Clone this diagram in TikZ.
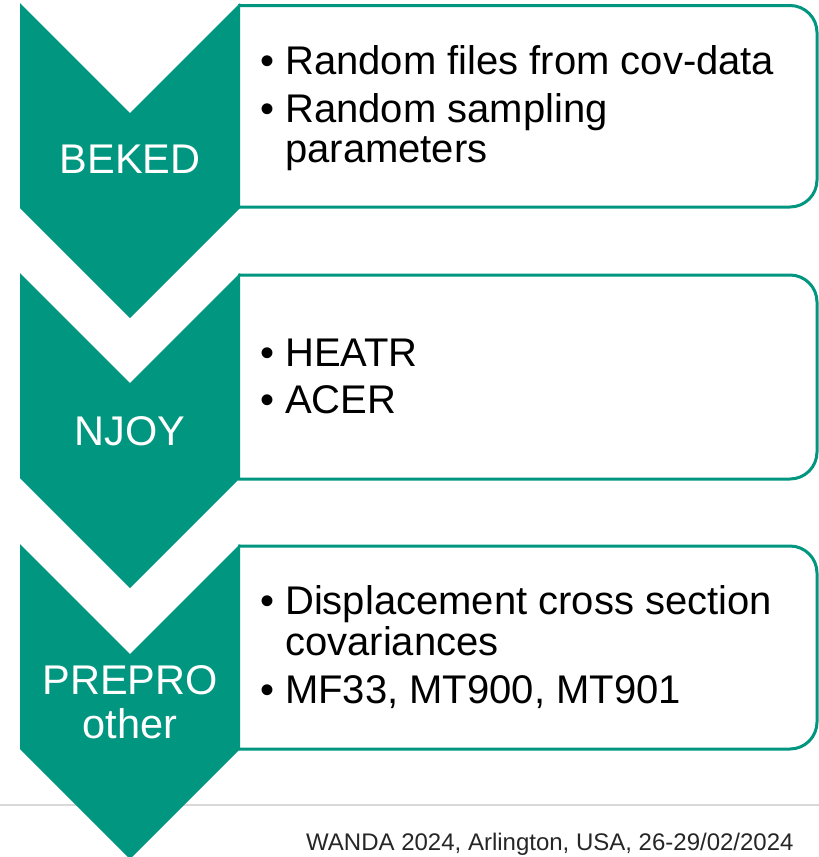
\documentclass[tikz,border=0pt]{standalone}
\usepackage{fontspec}
\setmainfont{Liberation Sans}
\definecolor{tealc}{RGB}{0,150,128}
\definecolor{rulegray}{RGB}{217,217,217}
\definecolor{foottext}{RGB}{38,38,38}
\tikzset{
  chev/.style={fill=tealc, draw=none},
  box/.style={draw=tealc, line width=3pt, rounded corners=27pt, fill=white},
  lbl/.style={text=white, inner sep=0pt, anchor=base, font=\fontsize{41.5}{41.5}\selectfont},
  bul/.style={text=black, inner sep=0pt, anchor=base west, font=\fontsize{40}{40}\selectfont},
  foot/.style={text=foottext, inner sep=0pt, anchor=base west, font=\fontsize{24}{24}\selectfont}
}
\begin{document}
\begin{tikzpicture}[x=1pt,y=-1pt]
\useasboundingbox (0,0) rectangle (819,857);
\begin{scope}
\clip (0,0) rectangle (819,857);
% boxes
\draw[box] (238,5.5) -- (817,5.5) -- (817,207) -- (238,207);
\draw[box] (238,275) -- (817,275) -- (817,479) -- (238,479);
\draw[box] (238,546) -- (817,546) -- (817,749) -- (238,749);
% footer rule
\draw[rulegray, line width=2.5pt] (0,805) -- (819,805);
% chevrons
\foreach \t in {3,273,544}{
  \fill[chev] (20,\t) -- (130,\t+110) -- (240,\t) -- (240,\t+205) -- (130,\t+315) -- (20,\t+205) -- cycle;
}
% labels
\node[lbl] (beked) at (130,173) {BEKED};
\node[lbl] (njoy) at (130,445) {NJOY};
\node[lbl] (prepro) at (130,694) {PREPRO};
\node[lbl] (other) at (130,738) {other};
% bullets box 1
\node[bul] (d1) at (260,74) {•};
\node[bul] (t1) at (285,74) {Random files from cov-data};
\node[bul] (d2) at (260,122) {•};
\node[bul] (t2) at (285,122) {Random sampling};
\node[bul] (t2b) at (285,162) {parameters};
% bullets box 2
\node[bul] (d3) at (260,366) {•};
\node[bul] (t3) at (285,366) {HEATR};
\node[bul] (d4) at (260,413) {•};
\node[bul] (t4) at (285,413) {ACER};
% bullets box 3
\node[bul] (d5) at (260,614) {•};
\node[bul] (t5) at (285,614) {Displacement cross section};
\node[bul] (t5b) at (285,655) {covariances};
\node[bul] (d6) at (260,703) {•};
\node[bul] (t6) at (285,703) {MF33, MT900, MT901};
% footer
\node[foot] (footer) at (306,850) {WANDA 2024, Arlington, USA, 26-29/02/2024};
\end{scope}
\end{tikzpicture}
\end{document}
